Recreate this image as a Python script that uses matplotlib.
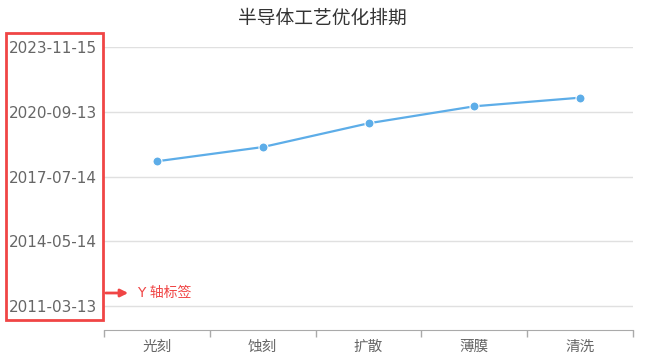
import matplotlib
matplotlib.use("Agg")
import matplotlib.pyplot as plt
import matplotlib.dates as mdates
from matplotlib.patches import Rectangle, FancyArrowPatch
from matplotlib.ticker import FixedLocator, NullFormatter
from datetime import datetime

# data
categories = ["光刻", "蚀刻", "扩散", "薄膜", "清洗"]
dates = ["2018-04-12", "2018-12-22", "2020-02-20", "2020-12-20", "2021-05-23"]
ytick_dates = ["2011-03-13", "2014-05-14", "2017-07-14", "2020-09-13", "2023-11-15"]
y_range = ["2010-01-08", "2023-11-15"]

CJK = ["Noto Sans CJK SC", "DejaVu Sans"]
LINE = "#5dade8"
RED = "#f04545"


def to_num(s):
    return mdates.date2num(datetime.strptime(s, "%Y-%m-%d"))


W, H = 645, 364
fig = plt.figure(figsize=(W / 100, H / 100), dpi=100)
ax = fig.add_axes([104 / W, 34 / H, 529 / W, 283 / H])

x = list(range(len(categories)))
y = [to_num(d) for d in dates]
ax.plot(x, y, color=LINE, lw=1.6, marker="o", markersize=6.5,
        markerfacecolor=LINE, markeredgecolor="white", markeredgewidth=0.8,
        zorder=3, clip_on=False)

ax.set_xlim(-0.5, len(categories) - 0.5)
ax.set_ylim(to_num(y_range[0]), to_num(y_range[1]))

# y axis
yt = [to_num(d) for d in ytick_dates]
ax.set_yticks(yt)
ax.set_yticklabels(ytick_dates, fontsize=11, color="#666666", family="DejaVu Sans")
ax.tick_params(axis="y", length=0, pad=5)
ax.grid(axis="y", color="#e0e0e0", lw=1)
ax.set_axisbelow(True)

# x axis
ax.set_xticks(x)
ax.set_xticklabels(categories, fontsize=10.5, color="#666666", family=CJK)
ax.tick_params(axis="x", which="major", length=0, pad=7)
ax.xaxis.set_minor_locator(FixedLocator([i - 0.5 for i in range(len(categories) + 1)]))
ax.xaxis.set_minor_formatter(NullFormatter())
ax.tick_params(axis="x", which="minor", length=5, color="#aaaaaa", width=1)

for s in ["top", "right", "left"]:
    ax.spines[s].set_visible(False)
ax.spines["bottom"].set_color("#aaaaaa")

fig.text(322 / W, 1 - 18 / H, "半导体工艺优化排期", ha="center", va="center",
         fontsize=13.5, color="#333333", family=CJK)

# annotation box around y labels
fig.patches.append(Rectangle((6 / W, 1 - 320 / H), 97 / W, 287 / H,
                             transform=fig.transFigure, fill=False,
                             edgecolor=RED, lw=2))
fig.add_artist(FancyArrowPatch(
    (103 / W, 1 - 293 / H), (131 / W, 1 - 293 / H),
    transform=fig.transFigure, arrowstyle="-|>", mutation_scale=11,
    color=RED, lw=2))
fig.text(137 / W, 1 - 293 / H, "Y 轴标签", ha="left", va="center",
         fontsize=10, color=RED, family=["DejaVu Sans", "Noto Sans CJK SC"])

fig.savefig("out.png", dpi=100)
